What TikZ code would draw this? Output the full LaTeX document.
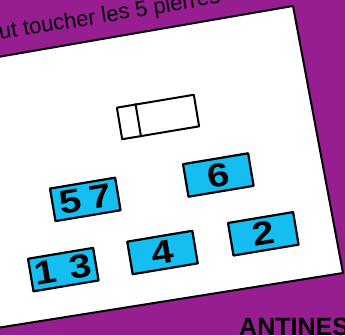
\documentclass[tikz,border=0pt]{standalone}
\usepackage{fontspec}
\setmainfont{Liberation Sans}
\newfontfamily\digitfont[FakeStretch=1.2]{Liberation Sans}
\usetikzlibrary{calc}
\definecolor{cardpurple}{RGB}{150,30,145}
\definecolor{stonecyan}{RGB}{20,190,240}
\begin{document}
\begin{tikzpicture}[x=1pt, y=-1pt, line join=round,
	stone/.style={draw, line width=2.2pt, fill=stonecyan, rotate=9.5, minimum width=66pt, minimum height=33pt, inner sep=0pt, font=\digitfont\bfseries\fontsize{33}{33}\selectfont},
	slotbox/.style={draw, line width=2pt, fill=white, rotate=9.5, minimum width=78pt, minimum height=32pt, inner sep=0pt}]
	\useasboundingbox (0,0) rectangle (345,335);
	\fill[cardpurple] (0,0) rectangle (345,335);
	\draw[line width=2pt, fill=white] (-60,67) -- (293,6) -- (343,273) -- (-60,337) -- cycle;
	\node[rotate=9.5, anchor=base west, inner sep=0pt, font=\fontsize{22}{22}\selectfont] (hint) at (0,40) {ut toucher les 5 pierres};
	\node[anchor=base west, inner sep=0pt, font=\bfseries\fontsize{25}{25}\selectfont] (brand) at (239,335) {ANTINES};
	\node[slotbox] (slot) at (158,117) {};
	\draw[line width=2pt] ($(slot.north west)!0.25!(slot.north east)$) -- ($(slot.south west)!0.25!(slot.south east)$);
	\node[stone] (s6) at (218.3,175) {6};
	\node[stone] (s57) at (85.3,199.4) {5\hspace{0.27em}7};
	\node[stone] (s13) at (63.3,269.6) {1\hspace{0.41em}3};
	\node[stone] (s4) at (162.5,252.5) {4};
	\node[stone] (s2) at (263.3,233.8) {2};
\end{tikzpicture}
\end{document}
